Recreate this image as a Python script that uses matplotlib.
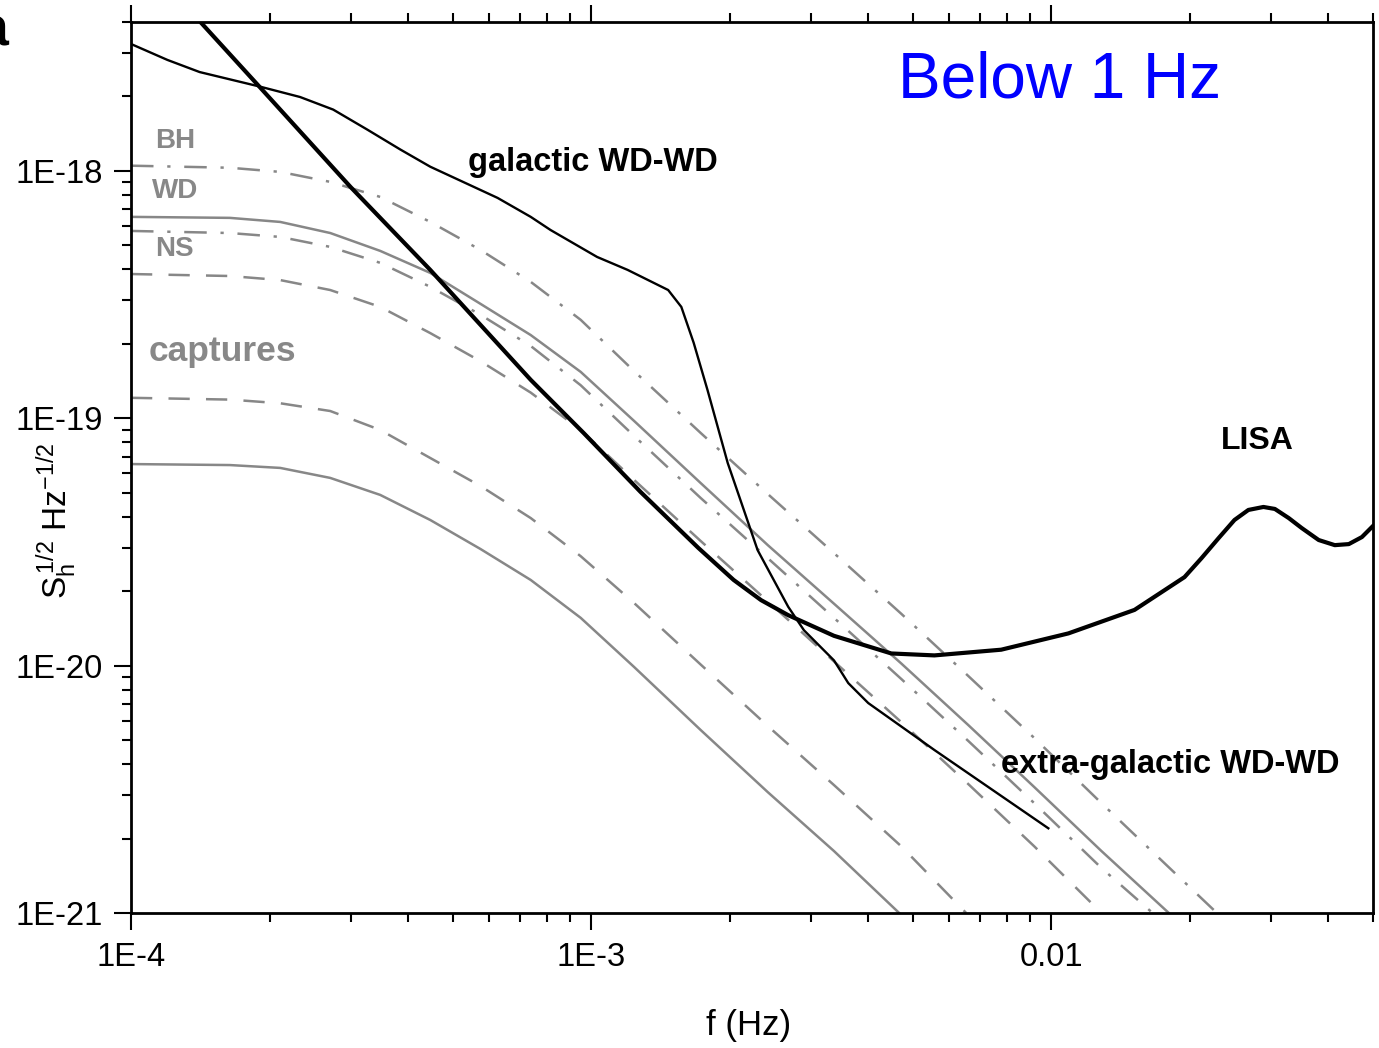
import numpy as np
import matplotlib
matplotlib.use('Agg')
import matplotlib.pyplot as plt
from matplotlib.ticker import FixedLocator, FixedFormatter, LogLocator, NullFormatter

plt.rcParams['font.family'] = ['Liberation Sans', 'DejaVu Sans']
plt.rcParams['mathtext.fontset'] = 'custom'
plt.rcParams['mathtext.rm'] = 'Liberation Sans'
plt.rcParams['mathtext.it'] = 'Liberation Sans'
plt.rcParams['mathtext.bf'] = 'Liberation Sans:bold'

# ---------------- data ----------------
xtick_vals = [1e-4, 1e-3, 1e-2]
xtick_labels = ['1E-4', '1E-3', '0.01']
ytick_vals = [1e-21, 1e-20, 1e-19, 1e-18]
ytick_labels = ['1E-21', '1E-20', '1E-19', '1E-18']

gray_f = [1.0e-4, 1.64e-4, 2.11e-4, 2.71e-4, 3.48e-4, 4.47e-4, 5.75e-4, 7.39e-4,
          9.49e-4, 1.24e-3, 1.73e-3, 2.42e-3, 3.37e-3, 4.72e-3, 6.60e-3, 9.18e-3,
          1.285e-2, 1.80e-2]

bh_f = gray_f + [2.29e-2]
bh_h = [1.05e-18, 1.03e-18, 9.91e-19, 9.03e-19, 7.85e-19, 6.22e-19, 4.79e-19, 3.56e-19,
        2.50e-19, 1.55e-19, 8.72e-20, 4.94e-20, 2.85e-20, 1.62e-20, 9.08e-21, 5.10e-21,
        2.78e-21, 1.53e-21, 1.0e-21]

wd_f = gray_f
wd_h = [6.52e-19, 6.46e-19, 6.22e-19, 5.61e-19, 4.75e-19, 3.87e-19, 2.90e-19, 2.17e-19,
        1.54e-19, 9.75e-20, 5.47e-20, 3.07e-20, 1.78e-20, 1.02e-20, 5.75e-21, 3.23e-21,
        1.78e-21, 1.0e-21]

ns_f = gray_f[:17] + [1.66e-2]
ns_h = [5.72e-19, 5.61e-19, 5.41e-19, 4.93e-19, 4.25e-19, 3.40e-19, 2.62e-19, 1.96e-19,
        1.36e-19, 8.48e-20, 4.76e-20, 2.72e-20, 1.56e-20, 8.83e-21, 4.96e-21, 2.78e-21,
        1.52e-21, 1.0e-21]

cap1_f = gray_f[:17]
cap1_h = [3.83e-19, 3.76e-19, 3.62e-19, 3.30e-19, 2.82e-19, 2.21e-19, 1.70e-19, 1.27e-19,
          8.97e-20, 5.63e-20, 3.19e-20, 1.82e-20, 1.04e-20, 5.91e-21, 3.32e-21, 1.86e-21,
          1.0e-21]

cap2_f = gray_f[:14] + [6.53e-3]
cap2_h = [1.21e-19, 1.19e-19, 1.15e-19, 1.07e-19, 8.97e-20, 6.91e-20, 5.32e-20, 3.95e-20,
          2.77e-20, 1.79e-20, 1.01e-20, 5.70e-21, 3.29e-21, 1.86e-21, 1.0e-21]

cap3_f = gray_f[:13] + [4.67e-3]
cap3_h = [6.53e-20, 6.47e-20, 6.30e-20, 5.74e-20, 4.90e-20, 3.88e-20, 2.96e-20, 2.22e-20,
          1.56e-20, 9.87e-21, 5.49e-21, 3.08e-21, 1.78e-21, 1.0e-21]

lisa_f = [1.28e-4, 1.91e-4, 3.00e-4, 4.47e-4, 7.39e-4, 9.63e-4, 1.28e-3, 1.71e-3, 2.04e-3,
          2.34e-3, 2.68e-3, 3.37e-3, 4.49e-3, 5.57e-3, 7.78e-3, 1.089e-2, 1.516e-2, 1.947e-2,
          2.12e-2, 2.31e-2, 2.50e-2, 2.68e-2, 2.89e-2, 3.06e-2, 3.28e-2, 3.50e-2, 3.81e-2,
          4.13e-2, 4.43e-2, 4.73e-2, 5.0e-2]
lisa_h = [4.91e-18, 2.17e-18, 8.61e-19, 3.98e-19, 1.43e-19, 8.72e-20, 5.04e-20, 2.99e-20, 2.22e-20,
          1.84e-20, 1.60e-20, 1.32e-20, 1.12e-20, 1.10e-20, 1.16e-20, 1.35e-20, 1.68e-20, 2.28e-20,
          2.72e-20, 3.28e-20, 3.88e-20, 4.26e-20, 4.38e-20, 4.30e-20, 3.95e-20, 3.60e-20, 3.22e-20,
          3.07e-20, 3.10e-20, 3.31e-20, 3.67e-20]

gal_f = [1.0e-4, 1.20e-4, 1.41e-4, 1.91e-4, 2.33e-4, 2.75e-4, 3.26e-4, 3.85e-4, 4.47e-4,
         6.26e-4, 7.39e-4, 8.16e-4, 1.03e-3, 1.20e-3, 1.47e-3, 1.57e-3, 1.67e-3, 1.79e-3,
         1.98e-3, 2.30e-3, 2.68e-3, 2.90e-3, 3.37e-3, 3.62e-3, 4.00e-3, 5.57e-3, 9.85e-3]
gal_h = [3.26e-18, 2.81e-18, 2.51e-18, 2.19e-18, 1.99e-18, 1.77e-18, 1.47e-18, 1.22e-18, 1.04e-18,
         7.78e-19, 6.52e-19, 5.77e-19, 4.49e-19, 3.98e-19, 3.30e-19, 2.82e-19, 2.02e-19, 1.30e-19,
         6.60e-20, 2.93e-20, 1.73e-20, 1.39e-20, 1.05e-20, 8.50e-21, 7.06e-21, 4.56e-21, 2.20e-21]

# ---------------- figure ----------------
W, H = 1379, 1048
fig = plt.figure(figsize=(W / 100, H / 100), dpi=100)
ax = fig.add_axes([131 / W, 1 - 913 / H, (1373 - 131) / W, (913 - 22) / H])
ax.set_xscale('log')
ax.set_yscale('log')

gray = '#878787'
glw = 1.8
dash = (0, (8.5, 6.5))
dashdot = (0, (9.0, 5.5, 1.3, 5.5))

ax.plot(bh_f, bh_h, color=gray, lw=glw, linestyle=dashdot)
ax.plot(wd_f, wd_h, color=gray, lw=glw, linestyle='-')
ax.plot(ns_f, ns_h, color=gray, lw=glw, linestyle=dashdot)
ax.plot(cap1_f, cap1_h, color=gray, lw=glw, linestyle=dash)
ax.plot(cap2_f, cap2_h, color=gray, lw=glw, linestyle=dash)
ax.plot(cap3_f, cap3_h, color=gray, lw=glw, linestyle='-')

ax.plot(gal_f, gal_h, color='black', lw=1.7, solid_joinstyle='round')
ax.plot(lisa_f, lisa_h, color='black', lw=3.0, solid_joinstyle='round')

ax.set_xlim(1e-4, 0.05)
ax.set_ylim(1e-21, 4e-18)

for s in ax.spines.values():
    s.set_linewidth(2.0)

ax.xaxis.set_major_locator(FixedLocator(xtick_vals))
ax.xaxis.set_major_formatter(FixedFormatter(xtick_labels))
ax.yaxis.set_major_locator(FixedLocator(ytick_vals))
ax.yaxis.set_major_formatter(FixedFormatter(ytick_labels))
ax.xaxis.set_minor_locator(LogLocator(base=10, subs=np.arange(2, 10), numticks=30))
ax.yaxis.set_minor_locator(LogLocator(base=10, subs=np.arange(2, 10), numticks=30))
ax.xaxis.set_minor_formatter(NullFormatter())
ax.yaxis.set_minor_formatter(NullFormatter())

ax.tick_params(which='both', direction='out', top=True, right=False, width=1.5, colors='black')
ax.tick_params(which='major', length=12, labelsize=23.5)
ax.tick_params(which='minor', length=6.5)
ax.tick_params(axis='x', which='major', pad=9)
ax.tick_params(axis='y', which='major', pad=8)

ax.set_xlabel('f (Hz)', fontsize=25)
ax.xaxis.set_label_coords(0.497, -0.108)
ax.set_ylabel(r'$\mathregular{S_h^{\,1/2}\ Hz^{-1/2}}$', fontsize=24)
ax.yaxis.set_label_coords(-0.042, 0.44)

def fx(px):
    return px / W

def fy(py):
    return 1 - py / H

lab_gray = '#888888'
fig.text(fx(175), fy(141), 'BH', color=lab_gray, fontsize=20, fontweight='bold', ha='center', va='center')
fig.text(fx(175), fy(191), 'WD', color=lab_gray, fontsize=20, fontweight='bold', ha='center', va='center')
fig.text(fx(174), fy(249), 'NS', color=lab_gray, fontsize=20, fontweight='bold', ha='center', va='center')
fig.text(fx(222), fy(352), 'captures', color=lab_gray, fontsize=25.5, fontweight='bold', ha='center', va='center')
fig.text(fx(593), fy(162), 'galactic WD-WD', color='black', fontsize=23.5, fontweight='bold', ha='center', va='center')
fig.text(fx(1257), fy(441), 'LISA', color='black', fontsize=23, fontweight='bold', ha='center', va='center')
fig.text(fx(1170), fy(765), 'extra-galactic WD-WD', color='black', fontsize=23.5, fontweight='bold', ha='center', va='center')
fig.text(fx(1059), fy(80), 'Below 1 Hz', color='#0000ff', fontsize=46, ha='center', va='center')
fig.text(fx(8), fy(45), 'a', color='black', fontsize=40, fontweight='bold', ha='right', va='baseline')

fig.savefig('out.png', dpi=100)
